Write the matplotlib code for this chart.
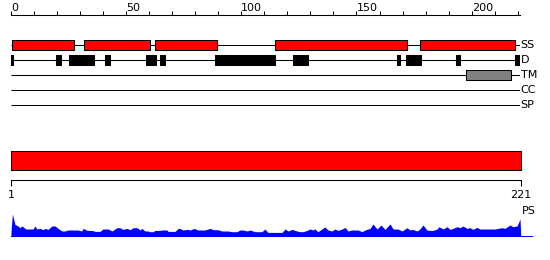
import matplotlib
matplotlib.use("Agg")
import matplotlib.pyplot as plt

# track features (residue start, residue end)
ss_segments = [(0.5, 27.5), (31.5, 60.5), (62.5, 89.5), (114.5, 172), (177.5, 219)]
d_segments = [(0, 1), (19.5, 21.5), (25, 33), (33.6, 36), (41, 43), (58.5, 63),
              (64.7, 66.7), (88.5, 114.5), (122.5, 129), (167.5, 169), (171.5, 178),
              (193, 195), (219, 221)]
tm_segments = [(197.5, 217)]
track_names = ["SS", "D", "TM", "CC", "SP"]
seq_len = 221

# PS profile (residue, score)
ps_pos = [1.0, 1.6, 2.7, 3.8, 4.9, 5.6, 6.2, 7.3, 8.3, 10.5, 11.4, 12.1, 13.5, 14.8, 15.7,
          17.0, 18.6, 20.0, 21.3, 23.0, 24.3, 25.6, 29.9, 31.5, 32.2, 33.8, 36.0, 37.3,
          39.4, 40.7, 42.9, 44.6, 46.7, 48.0, 49.3, 51.1, 52.4, 53.7, 55.4, 56.7, 57.5,
          58.8, 60.1, 61.0, 62.3, 63.1, 65.3, 66.2, 68.3, 68.8, 71.8, 73.1, 73.9, 75.2,
          77.0, 78.3, 80.0, 81.7, 84.7, 86.9, 88.2, 90.3, 92.1, 94.7, 96.4, 98.5, 99.8,
          101.1, 102.9, 104.2, 106.3, 109.3, 110.6, 111.9, 118.0, 119.3, 120.6, 122.3,
          124.4, 125.7, 127.0, 128.8, 130.0, 131.3, 132.2, 133.5, 135.2, 136.5, 137.8,
          139.5, 140.8, 142.1, 143.9, 145.2, 146.4, 148.2, 150.8, 152.5, 153.8, 156.0,
          157.2, 159.0, 160.7, 162.4, 164.6, 165.9, 168.0, 169.8, 171.9, 173.2, 174.5,
          176.2, 177.5, 178.8, 180.5, 181.8, 183.1, 184.9, 185.7, 187.5, 189.2, 190.5,
          191.8, 193.5, 194.8, 196.1, 197.8, 199.1, 200.4, 202.1, 203.4, 205.6, 209.9,
          211.2, 212.9, 214.2, 216.4, 217.6, 219.4, 220.7, 221.0]
ps_val = [4, 21.7, 11.3, 10, 8, 9.7, 9, 6.7, 6.7, 6.7, 9.7, 6.7, 7.3, 6, 7.3,
          6.3, 9.7, 9.7, 7.3, 4.7, 4.7, 5.7, 5.7, 4.7, 7.3, 5.3, 5.3, 4.3,
          4.3, 6.7, 6.7, 4.7, 8, 8, 6.3, 7.3, 6, 8, 8, 5.7, 7.3,
          4.7, 4.7, 4, 4, 5.3, 5.3, 5.7, 5.7, 4.3, 4.3, 7.3, 7.3, 5.7,
          6.3, 5.7, 7.3, 5.7, 5.7, 7.3, 6, 6, 4.7, 4.7, 4, 4, 5.7,
          5.7, 4.7, 5.7, 4, 4, 6.7, 3.3, 3.3, 6.7, 4.7, 6.3,
          4.7, 4, 4, 5.3, 6.7, 5.7, 6.7, 4, 6.7, 8.7, 5.7,
          4.7, 6.7, 5.3, 6.7, 8.3, 4.7, 5.7, 5.7, 4, 5.7, 7.3,
          11.7, 6.7, 10.7, 6.3, 11.7, 6.7, 6.7, 4.7, 8, 5.7, 6.3,
          4.7, 6.7, 10.7, 5.7, 5.3, 5.3, 6.7, 9, 6.7, 9, 6.3,
          7.3, 9, 8, 9.7, 7.3, 8, 6.3, 8.3, 6.7, 6.7, 6.7,
          7.3, 8, 7.3, 10.7, 9, 9.7, 16.7, 0]

W, H = 550, 260
fig = plt.figure(figsize=(W / 100, H / 100), dpi=100)
plt.rcParams['font.family'] = 'DejaVu Sans'


def px_axes(left, top, right, bottom):
    return fig.add_axes([left / W, 1 - bottom / H, (right - left) / W, (bottom - top) / H])


lw = 0.75

# top panel: tracks
ax = px_axes(11, 15, 520, 112.5)
ax.set_xlim(0, seq_len)
ax.set_ylim(4.5, -2)
for s in ["left", "right", "bottom"]:
    ax.spines[s].set_visible(False)
ax.spines["top"].set_linewidth(lw)
ax.set_yticks([])
ax.xaxis.tick_top()
ax.set_xticks(range(0, 201, 50))
ax.set_xticks(range(0, 221, 10), minor=True)
ax.tick_params(axis="x", which="both", direction="out", length=3, width=lw, pad=-1.5,
               labelsize=8)
for lab in ax.get_xticklabels():
    lab.set_horizontalalignment("left")

for i, name in enumerate(track_names):
    ax.hlines(i, 0, seq_len, color="black", lw=lw, zorder=1)
    ax.annotate(name, xy=(seq_len, i), xytext=(0.5, 0), textcoords="offset points",
                va="center", ha="left", fontsize=8, annotation_clip=False)

box_h = 0.7
ax.broken_barh([(a, b - a) for a, b in ss_segments], (0 - box_h / 2, box_h),
               facecolor="#ff0000", edgecolor="black", lw=lw, zorder=2)
ax.broken_barh([(a, b - a) for a, b in d_segments], (1 - box_h / 2, box_h),
               facecolor="black", edgecolor="black", lw=lw, zorder=2)
ax.broken_barh([(a, b - a) for a, b in tm_segments], (2 - box_h / 2, box_h),
               facecolor="#808080", edgecolor="black", lw=lw, zorder=2)

# middle panel: full-length bar with 1..221 axis
ax2 = px_axes(11, 145, 520.7, 180.3)
ax2.set_xlim(1, seq_len)
ax2.set_ylim(0, 1)
for s in ["left", "right", "top"]:
    ax2.spines[s].set_visible(False)
ax2.spines["bottom"].set_linewidth(lw)
ax2.set_yticks([])
ax2.set_xticks([1, seq_len])
ax2.tick_params(axis="x", direction="out", length=4, width=lw, pad=3, labelsize=8)
ax2.broken_barh([(1, seq_len - 1)], (0.28, 0.56), facecolor="#ff0000",
                edgecolor="black", lw=lw)

# bottom panel: PS profile
ax3 = px_axes(11, 205, 532.3, 235.7)
ax3.set_xlim(1, 226)
ax3.set_ylim(0, 30.7)
ax3.axis("off")
ax3.fill_between(ps_pos, 0, ps_val, color="#0000ff", lw=0)
ax3.axhline(0, color="#0000ff", lw=lw, clip_on=False)
ax3.text(seq_len + 0.5, 25, "PS", fontsize=8, va="center", ha="left")

fig.savefig("out.png", dpi=100)
